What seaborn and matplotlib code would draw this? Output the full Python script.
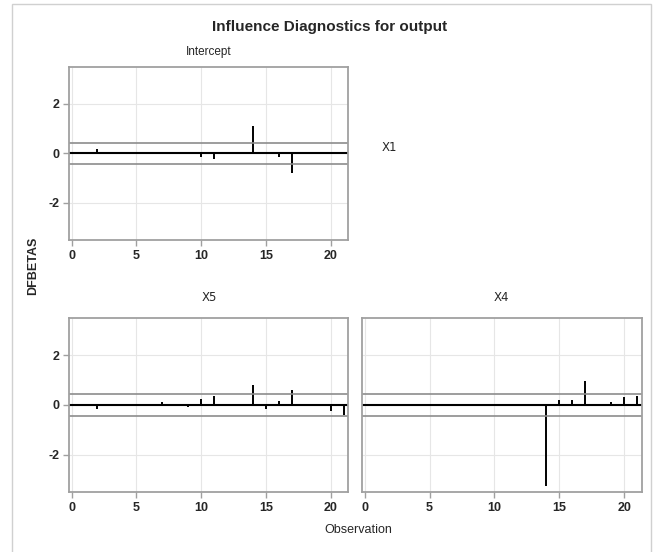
import numpy as np
import pandas as pd
import matplotlib
matplotlib.use('Agg')
import matplotlib.pyplot as plt
import seaborn as sns

# ---------- DATA ----------
observation = list(range(1, 22))
dfb_intercept = [0.02, 0.16, 0.02, 0.02, 0.00, 0.00, 0.02, 0.02, 0.05, -0.13, -0.23,
                 0.02, 0.02, 1.12, 0.02, -0.13, -0.80, 0.02, 0.02, 0.05, 0.05]
dfb_x5 = [0.00, -0.15, -0.03, 0.00, 0.02, 0.02, 0.10, 0.00, -0.10, 0.25, 0.37,
          0.00, 0.00, 0.80, -0.15, 0.15, 0.58, 0.00, -0.03, -0.25, -0.40]
dfb_x4 = [0.02, 0.02, 0.02, 0.02, 0.02, 0.00, 0.00, 0.02, 0.02, 0.02, 0.02,
          0.00, 0.00, -3.26, 0.20, 0.20, 0.95, 0.02, 0.10, 0.30, 0.37]
cutoff = 2 / np.sqrt(len(observation))

df = pd.DataFrame({'Observation': observation * 3,
                   'DFBETAS': dfb_intercept + dfb_x5 + dfb_x4,
                   'Parameter': ['Intercept'] * 21 + ['X5'] * 21 + ['X4'] * 21})

# ---------- STYLE ----------
sns.set_style('whitegrid', {'grid.color': '#e6e6e6', 'axes.edgecolor': '#a0a0a0'})
plt.rcParams['font.family'] = ['Liberation Sans Narrow', 'Liberation Sans', 'DejaVu Sans']
plt.rcParams['axes.unicode_minus'] = False

fig = plt.figure(figsize=(6.57, 5.52), dpi=100)
fig.patches.append(plt.Rectangle((12 / 657, -0.01), 639 / 657, 1 - 4 / 552 + 0.01,
                                 transform=fig.transFigure, fill=False,
                                 edgecolor='#d0d0d0', lw=1))

boxes = {'Intercept': [0.105, 0.565, 0.425, 0.314],
         'X5': [0.105, 0.109, 0.425, 0.315],
         'X4': [0.551, 0.109, 0.426, 0.315]}

for name, box in boxes.items():
    ax = fig.add_axes(box)
    sub = df[df['Parameter'] == name]
    ax.vlines(sub['Observation'], 0, sub['DFBETAS'], color='black', lw=1.4)
    sns.lineplot(x=[-1, 23], y=[0, 0], ax=ax, color='black', lw=1.5)
    for c in (cutoff, -cutoff):
        ax.axhline(c, color='#8c8c8c', lw=1.2)
    ax.set_xlim(-0.2, 21.35)
    ax.set_ylim(-3.5, 3.5)
    ax.set_xticks([0, 5, 10, 15, 20])
    ax.set_yticks([-2, 0, 2])
    ax.set_xlabel('')
    ax.set_ylabel('')
    ax.tick_params(axis='both', length=4, color='#a0a0a0', width=1,
                   labelsize=9, pad=3, direction='out', left=True, bottom=True)
    for lab in ax.get_xticklabels() + ax.get_yticklabels():
        lab.set_fontweight('bold')
    for s in ax.spines.values():
        s.set_linewidth(1.3)
        s.set_color('#a0a0a0')
    if name == 'X4':
        ax.set_yticklabels([])
        ax.tick_params(axis='y', length=0)

fig.text(0.502, 0.951, 'Influence Diagnostics for output', ha='center', va='center',
         fontsize=11, fontweight='bold')
fig.text(0.318, 0.906, 'Intercept', ha='center', va='center', fontsize=8.5)
fig.text(0.318, 0.461, 'X5', ha='center', va='center', fontsize=8.5, family='DejaVu Sans')
fig.text(0.763, 0.461, 'X4', ha='center', va='center', fontsize=8.5, family='DejaVu Sans')
fig.text(0.593, 0.732, 'X1', ha='center', va='center', fontsize=8.5, family='DejaVu Sans')
fig.text(0.050, 0.518, 'DFBETAS', ha='center', va='center', rotation=90,
         fontsize=9, fontweight='bold')
fig.text(0.545, 0.040, 'Observation', ha='center', va='center', fontsize=9)

fig.savefig('out.png', dpi=100)
